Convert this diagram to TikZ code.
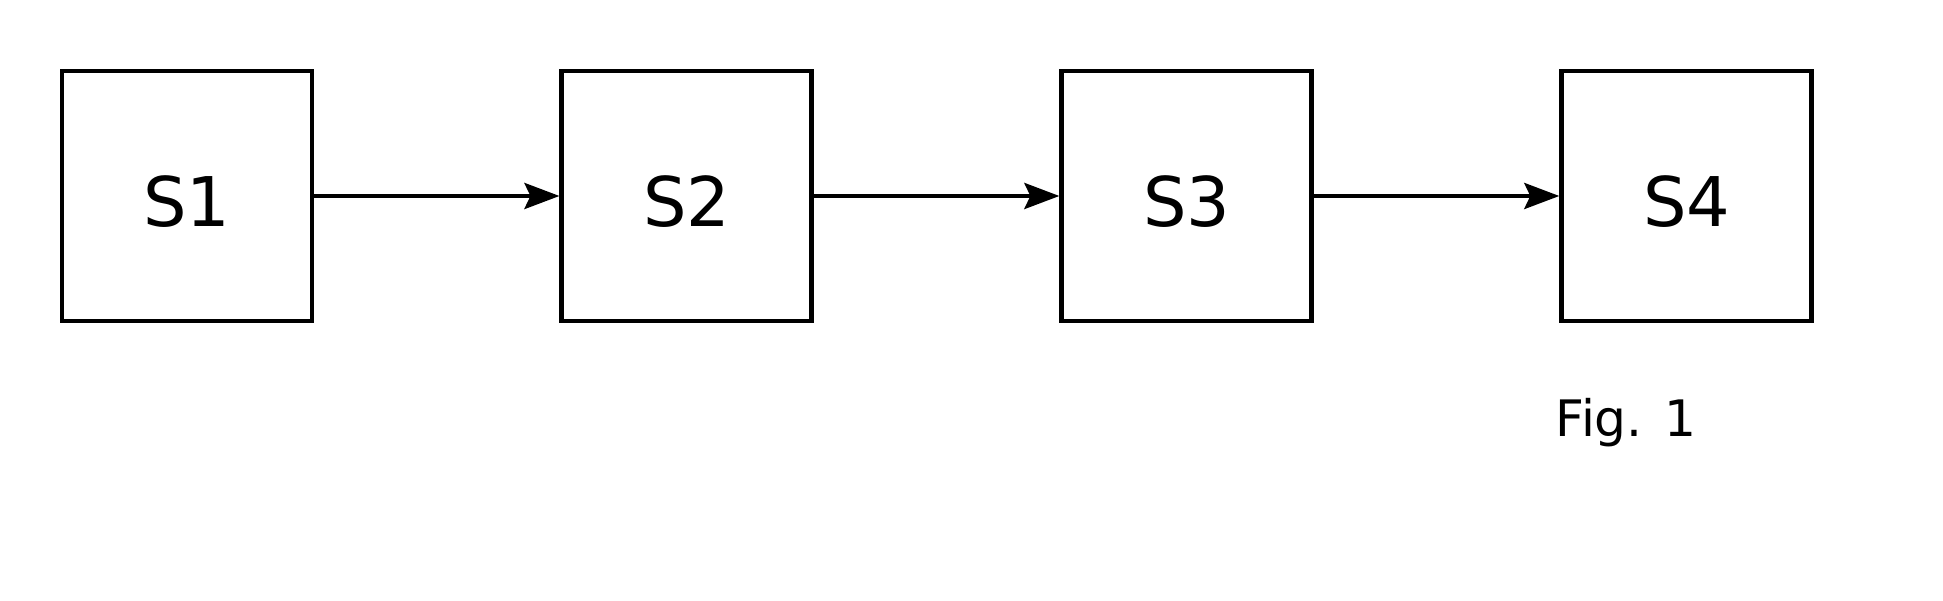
\documentclass[tikz,border=0pt]{standalone}
\usepackage{fontspec}
\setmainfont{DejaVu Sans}
\usetikzlibrary{positioning}
\usetikzlibrary{arrows.meta}

\tikzset{
    stage/.style={draw=black,line width=1.4pt,minimum size=2.5cm,inner sep=0pt,text height=0.62cm,text depth=0pt,font=\fontsize{19.5}{22}\selectfont},
    flow/.style={-{Stealth[length=0.35cm,width=0.26cm,inset=0.06cm]},line width=1.2pt,black}
}

\begin{document}
\begin{tikzpicture}[node distance=2.45cm]
    \useasboundingbox (0,0) rectangle (19.43,-6.01);
    % Stages
    \node[stage] (S1) at (1.87,-1.96) {S1};
    \node[stage,right=of S1] (S2) {S2};
    \node[stage,right=of S2] (S3) {S3};
    \node[stage,right=of S3] (S4) {S4};
    % Arrows
    \draw[flow] (S1.east) to (S2.west);
    \draw[flow] (S2.east) to (S3.west);
    \draw[flow] (S3.east) to (S4.west);
    % Caption
    \node[anchor=base west,inner sep=0pt,font=\fontsize{14.3}{17}\selectfont] (caption) at (15.55,-4.37) {Fig. 1};
\end{tikzpicture}
\end{document}
